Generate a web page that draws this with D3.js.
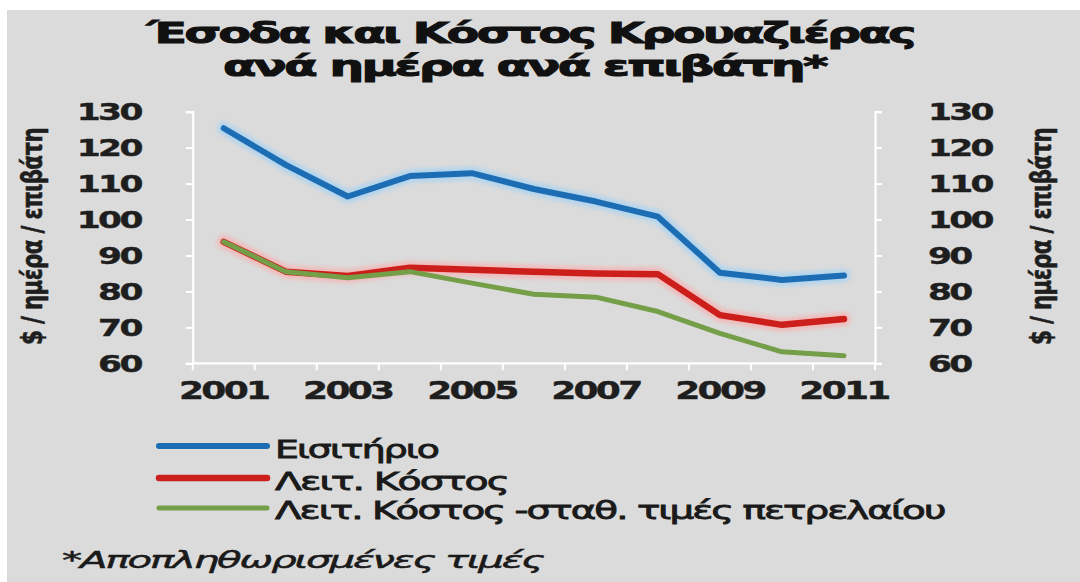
<!DOCTYPE html>
<html>
<head>
<meta charset="utf-8">
<script src="https://cdn.jsdelivr.net/npm/d3@7"></script>
<style>
  html, body { margin: 0; padding: 0; background: #ffffff; }
  svg { display: block; }
</style>
</head>
<body>
<svg id="chart" width="1080" height="582"></svg>
<script>
// Cruise revenue and cost per day per passenger (deflated prices)
const years = [2001, 2002, 2003, 2004, 2005, 2006, 2007, 2008, 2009, 2010, 2011];
const ticket = [125.4, 115.2, 106.4, 112.1, 112.9, 108.5, 105.0, 100.8, 85.2, 83.2, 84.4];
const opCost = [93.8, 85.5, 84.3, 86.6, 86.0, 85.5, 85.0, 84.8, 73.4, 70.7, 72.3];
const opCostFixedFuel = [93.8, 85.5, 83.8, 85.5, 82.3, 79.2, 78.4, 74.4, 68.3, 63.2, 62.1];
const yTicks = [60, 70, 80, 90, 100, 110, 120, 130];
const xLabelYears = [2001, 2003, 2005, 2007, 2009, 2011];
const seriesNames = ["Εισιτήριο", "Λειτ. Κόστος", "Λειτ. Κόστος -σταθ. τιμές πετρελαίου"];
const titleLines = ["Έσοδα και Κόστος Κρουαζιέρας", "ανά ημέρα ανά επιβάτη*"];
const axisTitle = "$ / ημέρα / επιβάτη";
const footnote = "*Αποπληθωρισμένες τιμές";

(function () {
const svg = d3.select("#chart");
const FONT = "'DejaVu Sans', Verdana, sans-serif";
const SX = 1.5; // wide lettering

// widen glyphs of axis labels, keeping their anchor point
function widen(sel, sx) {
  sel.each(function () {
    const t = d3.select(this);
    const x0 = +t.attr("x") || 0;
    t.attr("x", x0 / sx).attr("transform", `scale(${sx},1)`);
  });
}
// place a text starting at (x, y) spanning the given width
function place(t, x, y, w) {
  const L = t.node().getComputedTextLength();
  t.attr("x", 0).attr("y", 0).attr("transform", `translate(${x},${y}) scale(${w / L},1)`);
  return t;
}

// panel background
svg.append("rect").attr("x", 7).attr("y", 10).attr("width", 1073).attr("height", 572).attr("fill", "#dbdbdb");

const defs = svg.append("defs");
defs.append("filter").attr("id", "glow").attr("x", "-5%").attr("y", "-20%").attr("width", "110%").attr("height", "140%")
  .append("feGaussianBlur").attr("stdDeviation", 2.2);

// scales
const plotLeft = 192.7, plotRight = 875, plotTop = 111.7, plotBottom = 363.3;
const x = d3.scaleBand().domain(years).range([plotLeft, plotRight]).padding(0);
const y = d3.scaleLinear().domain([60, 130]).range([plotBottom, plotTop]);
const cx = d => x(d) + x.bandwidth() / 2;

// title
const title = svg.append("g").attr("font-family", FONT).attr("font-weight", "bold").attr("fill", "#111")
  .attr("font-size", 28).attr("letter-spacing", -1.5)
  .attr("stroke", "#111").attr("stroke-width", 1);
place(title.append("text").text(titleLines[0]), 147, 43, 767);
place(title.append("text").text(titleLines[1]), 223, 76, 603);

// axes (white lines)
const axisColor = "#ffffff";
const gL = svg.append("g").attr("transform", `translate(${plotLeft},0)`)
  .call(d3.axisLeft(y).tickValues(yTicks).tickSize(7).tickPadding(45));
const gR = svg.append("g").attr("transform", `translate(${plotRight},0)`)
  .call(d3.axisRight(y).tickValues(yTicks).tickSize(7).tickPadding(46));
[gL, gR].forEach(g => {
  g.select(".domain").attr("stroke", axisColor).attr("stroke-width", 2.2);
  g.selectAll(".tick line").attr("stroke", axisColor).attr("stroke-width", 2);
  g.selectAll(".tick text").attr("font-family", FONT).attr("font-weight", "bold")
    .attr("font-size", 23).attr("letter-spacing", -1.8).attr("fill", "#1e1e1e")
    .attr("stroke", "#1e1e1e").attr("stroke-width", 0.4).attr("dy", "0.36em");
  widen(g.selectAll(".tick text"), SX);
});

// x axis line and category boundary ticks
const gX = svg.append("g").attr("transform", `translate(0,${plotBottom})`);
gX.append("line").attr("x1", plotLeft).attr("x2", plotRight).attr("stroke", axisColor).attr("stroke-width", 2.2);
gX.selectAll("line.b").data(years.concat(["end"])).join("line").attr("class", "b")
  .attr("x1", d => d === "end" ? plotRight : x(d)).attr("x2", d => d === "end" ? plotRight : x(d))
  .attr("y1", 0).attr("y2", 7).attr("stroke", axisColor).attr("stroke-width", 2);
const gXl = svg.append("g").attr("transform", `translate(0,${plotBottom})`)
  .call(d3.axisBottom(x).tickValues(xLabelYears).tickSize(0).tickPadding(36));
gXl.select(".domain").remove();
gXl.selectAll(".tick text").attr("font-family", FONT).attr("font-weight", "bold")
  .attr("font-size", 24).attr("letter-spacing", -1.8).attr("fill", "#1e1e1e")
  .attr("stroke", "#1e1e1e").attr("stroke-width", 0.4).attr("dy", "0");
widen(gXl.selectAll(".tick text"), SX);

// vertical axis titles
[32, 1041].forEach(px => {
  const t = svg.append("text")
    .attr("text-anchor", "middle").attr("dominant-baseline", "central")
    .attr("font-family", FONT).attr("font-weight", "bold").attr("font-size", 19)
    .attr("letter-spacing", -0.6)
    .attr("fill", "#1e1e1e").attr("stroke", "#1e1e1e").attr("stroke-width", 0.4).text(axisTitle);
  const L = t.node().getComputedTextLength();
  t.attr("transform", `translate(${px},236.5) scale(1.5,${217 / L}) rotate(-90)`);
});

// series
const series = [
  { name: seriesNames[0], values: ticket, color: "#1c6db4", halo: "#a9d3f2", width: 6 },
  { name: seriesNames[1], values: opCost, color: "#cc1f1c", halo: "#f6b3b3", width: 6.5 },
  { name: seriesNames[2], values: opCostFixedFuel, color: "#759e48", halo: null, width: 5 }
];
const line = d3.line().x((d, i) => cx(years[i])).y(d => y(d));
const plot = svg.append("g");
series.forEach(s => {
  if (s.halo) {
    plot.append("path").attr("d", line(s.values)).attr("fill", "none")
      .attr("stroke", s.halo).attr("stroke-width", s.width + 7).attr("stroke-linejoin", "round")
      .attr("stroke-linecap", "round").attr("opacity", 0.85).attr("filter", "url(#glow)");
  }
});
series.forEach(s => {
  plot.append("path").attr("d", line(s.values)).attr("fill", "none")
    .attr("stroke", s.color).attr("stroke-width", s.width)
    .attr("stroke-linejoin", "round").attr("stroke-linecap", "round");
});

// legend
const legendRows = [
  { lineY: 446, baseY: 457.5, w: 163 },
  { lineY: 478, baseY: 489.5, w: 233 },
  { lineY: 508, baseY: 518.5, w: 670 }
];
const lg = svg.append("g");
series.forEach((s, i) => {
  const r = legendRows[i];
  if (s.halo) {
    lg.append("line").attr("x1", 159).attr("x2", 267).attr("y1", r.lineY).attr("y2", r.lineY)
      .attr("stroke", s.halo).attr("stroke-width", s.width + 7).attr("stroke-linecap", "round")
      .attr("opacity", 0.85).attr("filter", "url(#glow)");
  }
  lg.append("line").attr("x1", 159).attr("x2", 267).attr("y1", r.lineY).attr("y2", r.lineY)
    .attr("stroke", s.color).attr("stroke-width", s.width).attr("stroke-linecap", "round");
  const t = lg.append("text")
    .attr("font-family", FONT).attr("font-size", 24).attr("letter-spacing", -1.2).attr("fill", "#1a1a1a")
    .attr("stroke", "#1a1a1a").attr("stroke-width", 0.8).text(s.name);
  place(t, 275, r.baseY, r.w);
});

// footnote
const fn = svg.append("text")
  .attr("font-family", FONT).attr("font-style", "italic").attr("font-size", 23).attr("letter-spacing", -1.2)
  .attr("fill", "#1a1a1a").attr("stroke", "#1a1a1a").attr("stroke-width", 0.5).text(footnote);
place(fn, 62, 568, 481);
})();
</script>
</body>
</html>
